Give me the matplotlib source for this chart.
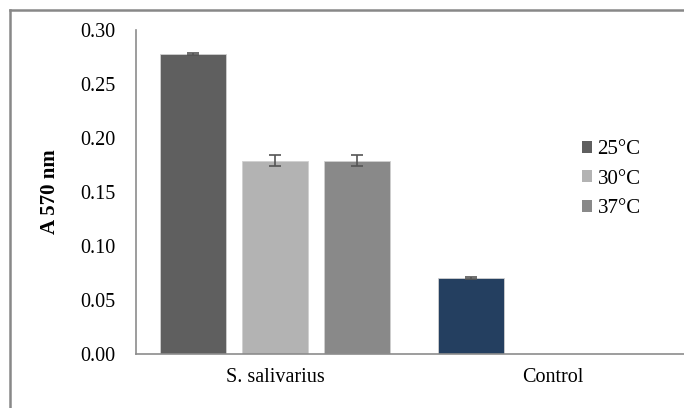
import numpy as np
import matplotlib
matplotlib.use('Agg')
import matplotlib.pyplot as plt
from matplotlib.patches import Patch

plt.rcParams['font.family'] = ['Liberation Serif', 'DejaVu Serif']

# data
categories = ['S. salivarius', 'Control']
temps = ['25°C', '30°C', '37°C']
a25 = [0.278, 0.070]
a30 = [0.179, np.nan]
a37 = [0.179, np.nan]
err25 = [0.001, 0.001]
err30 = [0.005, 0]
err37 = [0.005, 0]

colors = ['#5f5f5f', '#b3b3b3', '#898989']
control_color = '#243f60'
axis_gray = '#8c8c8c'

fig = plt.figure(figsize=(6.84, 4.08), dpi=100)
ax = fig.add_axes([0.1988, 0.1324, 0.8129, 0.794])

x = np.arange(len(categories))
pitch = 0.295
width = 0.238
series = [a25, a30, a37]
errs = [err25, err30, err37]
for i, (vals, e) in enumerate(zip(series, errs)):
    pos = x + (i - 1) * pitch
    cols = [colors[i]] * len(vals)
    if i == 0:
        cols[1] = control_color  # control bar drawn in navy
    ax.bar(pos, vals, width, color=cols, edgecolor='#d0d0d0', linewidth=0.6, zorder=2)
    ax.errorbar(pos, vals, yerr=e, fmt='none', ecolor='#555555', elinewidth=1.2,
                capsize=4.5, capthick=1.2, zorder=3)

ax.set_xlim(-0.5, 1.5)
ax.set_ylim(0, 0.30)
ax.set_yticks(np.arange(0, 0.301, 0.05))
ax.set_yticklabels([f'{v:.2f}' for v in np.arange(0, 0.301, 0.05)])
ax.set_xticks(x)
ax.set_xticklabels(categories)
ax.tick_params(axis='y', length=0, pad=15, labelsize=14.5)
ax.tick_params(axis='x', length=0, pad=10, labelsize=14.5)

for s in ['top', 'right']:
    ax.spines[s].set_visible(False)
for s in ['left', 'bottom']:
    ax.spines[s].set_color(axis_gray)
    ax.spines[s].set_linewidth(1.2)

ax.set_ylabel('A 570 nm', fontweight='bold', fontsize=15, labelpad=14)

handles = [Patch(facecolor=c) for c in colors]
ax.legend(handles, temps, loc='center left', bbox_to_anchor=(0.802, 0.54),
          frameon=False, fontsize=15, handlelength=0.5, handleheight=0.5,
          handletextpad=0.25, labelspacing=0.5, borderpad=0, borderaxespad=0)

# outer chart-area border (top and left edges visible in crop)
fig.add_artist(plt.Line2D([10 / 684, 1], [1 - 10 / 408, 1 - 10 / 408],
                          color='#888888', linewidth=1.8, transform=fig.transFigure))
fig.add_artist(plt.Line2D([10 / 684, 10 / 684], [0, 1 - 10 / 408],
                          color='#888888', linewidth=1.8, transform=fig.transFigure))

fig.savefig('out.png', dpi=100)
